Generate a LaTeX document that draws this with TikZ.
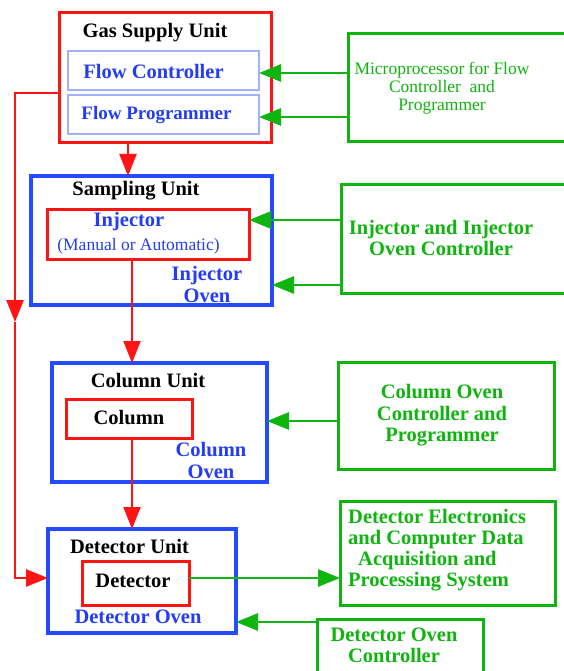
\documentclass[tikz,border=0pt]{standalone}
\usepackage{fontspec}
\setmainfont{Liberation Serif}
\usetikzlibrary{arrows.meta}
\definecolor{gcred}{RGB}{255,20,20}
\definecolor{gcblue}{RGB}{35,75,255}
\definecolor{gclb}{RGB}{160,178,255}
\definecolor{gcgreen}{RGB}{15,180,15}
\definecolor{gctext}{RGB}{35,60,245}
\begin{document}
\begin{tikzpicture}[x=1pt,y=-1pt,
  box/.style={rectangle, inner sep=0pt, outer sep=0pt, anchor=north west},
  redbox/.style={box, draw=gcred, line width=3pt},
  bluebox/.style={box, draw=gcblue, line width=3.2pt},
  lbbox/.style={box, draw=gclb, line width=1.6pt},
  grbox/.style={box, draw=gcgreen, line width=3pt},
  txt/.style={inner sep=0pt, align=center, font=\fontsize{20.5}{22}\selectfont\bfseries},
  btxt/.style={txt, text=gctext},
  gtxt/.style={txt, text=gcgreen},
  rarr/.style={draw=gcred, line width=2.2pt, -{Triangle[length=22pt,width=17pt]}},
  garr/.style={draw=gcgreen, line width=2.8pt, -{Triangle[length=22pt,width=17pt]}}]
\useasboundingbox (0,0) rectangle (564,671);
\begin{scope}
\clip (0,0) rectangle (564,671);
% ---- left column boxes
\node[redbox, minimum width=212pt, minimum height=130pt] (gas) at (59,13) {};
\node[lbbox, minimum width=191pt, minimum height=39pt] (fc) at (68,51) {};
\node[lbbox, minimum width=191pt, minimum height=39pt] (fp) at (68,95) {};
\node[txt] (gast) at (155,33) {Gas Supply Unit};
\node[btxt] (fct) at (153.5,71) {Flow Controller};
\node[btxt, font=\fontsize{19}{21}\selectfont\bfseries] (fpt) at (156.5,115) {Flow Programmer};

\node[bluebox, minimum width=241pt, minimum height=129pt] (samp) at (31,176) {};
\node[redbox, minimum width=202pt, minimum height=50pt] (inj) at (47,209) {};
\node[txt] (sampt) at (136,191) {Sampling Unit};
\node[btxt] (injt) at (129,222) {Injector};
\node[btxt, font=\fontsize{17.5}{19}\selectfont] (injm) at (138.5,246) {(Manual or Automatic)};
\node[btxt, font=\fontsize{20.5}{22}\selectfont\bfseries] (injo) at (207,284) {Injector\\Oven};

\node[bluebox, minimum width=215pt, minimum height=119pt] (colu) at (52,363) {};
\node[redbox, minimum width=126pt, minimum height=39pt] (col) at (66,399) {};
\node[txt] (colut) at (148,381) {Column Unit};
\node[txt] (colt) at (129,418) {Column};
\node[btxt] (colo) at (211,460) {Column\\Oven};

\node[bluebox, minimum width=188pt, minimum height=104pt] (detu) at (48,529) {};
\node[redbox, minimum width=107pt, minimum height=44pt] (det) at (82,561) {};
\node[txt] (detut) at (129.5,546) {Detector Unit};
\node[txt] (dett) at (133,581) {Detector};
\node[btxt] (deto) at (138,617) {Detector Oven};

% ---- right column (controllers)
\node[grbox, minimum width=230pt, minimum height=108pt] (micro) at (348,34) {};
\node[gtxt, font=\fontsize{17.5}{18}\selectfont] (microt) at (442,88) {Microprocessor for Flow\\Controller\ \ and\\Programmer};
\node[grbox, minimum width=236pt, minimum height=109pt] (injc) at (341,184) {};
\node[gtxt, font=\fontsize{20.5}{21}\selectfont\bfseries] (injct) at (441,237.5) {Injector and Injector\\Oven Controller};
\node[grbox, minimum width=216pt, minimum height=107pt] (colc) at (338,362) {};
\node[gtxt, font=\fontsize{20.5}{21.5}\selectfont\bfseries] (colct) at (442,415.5) {Column Oven\\Controller and\\Programmer};
\node[grbox, minimum width=215pt, minimum height=104pt] (detel) at (340,501) {};
\node[gtxt, align=left, anchor=west, font=\fontsize{20.5}{21}\selectfont\bfseries] (detelt) at (348,550) {Detector Electronics\\and Computer Data\\\hspace*{10pt}Acquisition and\\Processing System};
\node[grbox, minimum width=166pt, minimum height=70pt] (detoc) at (317,619) {};
\node[gtxt, font=\fontsize{20.5}{21}\selectfont\bfseries] (detoct) at (394,645.5) {Detector Oven\\Controller};

% ---- red flow connectors
\draw[rarr] (gas.south -| 128,0) -- (samp.north -| 128,0);
\draw[rarr] (inj.south -| 132,0) -- (colu.north -| 132,0);
\draw[rarr] (col.south -| 132,0) -- (detu.north -| 132,0);
\coordinate (lb1) at (15,93);
\coordinate (lmid) at (15,322);
\coordinate (lb2) at (15,578);
\draw[rarr, line width=2.6pt] (gas.west |- lb1) -- (lb1) -- (lmid);
\draw[rarr, line width=2.6pt] (lmid) -- (lb2) -- (detu.west |- lb2);

% ---- green control connectors
\draw[garr] (micro.west |- 0,73) -- (fc.east |- 0,73);
\draw[garr] (micro.west |- 0,117) -- (fp.east |- 0,117);
\draw[garr] (injc.west |- 0,220) -- (inj.east |- 0,220);
\draw[garr] (injc.west |- 0,285) -- (samp.east |- 0,285);
\draw[garr] (colc.west |- 0,421) -- (colu.east |- 0,421);
\draw[garr] (det.east |- 0,578) -- (detel.west |- 0,578);
\draw[garr] (detoc.west |- 0,622) -- (detu.east |- 0,622);
\end{scope}
\end{tikzpicture}
\end{document}
